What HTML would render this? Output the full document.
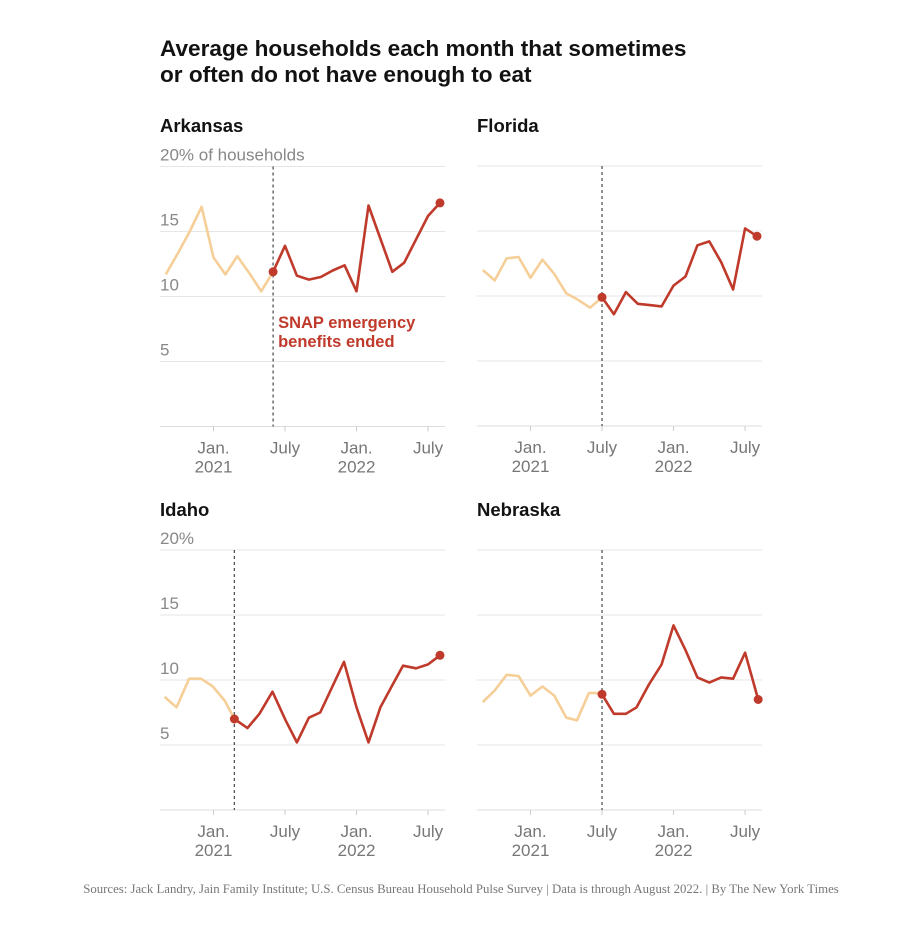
<!DOCTYPE html>
<html><head><meta charset="utf-8">
<style>
body{margin:0;background:#fff;width:898px;height:944px;overflow:hidden}
svg{display:block}
</style></head>
<body>
<svg id="chart" width="898" height="944">
<text x="160" y="56" font-family="Liberation Sans, sans-serif" font-weight="bold" font-size="22.6" fill="#121212">Average households each month that sometimes</text>
<text x="160" y="82" font-family="Liberation Sans, sans-serif" font-weight="bold" font-size="22.6" fill="#121212">or often do not have enough to eat</text>
<text x="461" y="893" text-anchor="middle" font-family="Liberation Serif, serif" font-size="12.8" fill="#777">Sources: Jack Landry, Jain Family Institute; U.S. Census Bureau Household Pulse Survey | Data is through August 2022. | By The New York Times</text>
</svg>
<script>
// month offsets relative to Jan 2021 (0 = Jan 2021)
const arLightMonths = [-4,-3,-2,-1,0,1,2,3,4,5];
const arLightValues = [11.7,13.3,15.0,16.9,13.0,11.7,13.1,11.8,10.4,11.9];
const arDarkMonths = [5,6,7,8,9,10,11,12,13,15,16,17,18,19];
const arDarkValues = [11.9,13.9,11.6,11.3,11.5,12.0,12.4,10.4,17.0,11.9,12.6,14.4,16.2,17.2];

const flLightMonths = [-4,-3,-2,-1,0,1,2,3,4,5,6];
const flLightValues = [12.0,11.2,12.9,13.0,11.4,12.8,11.7,10.2,9.7,9.1,9.9];
const flDarkMonths = [6,7,8,9,10,11,12,13,14,15,16,17,18,19];
const flDarkValues = [9.9,8.6,10.3,9.4,9.3,9.2,10.8,11.5,13.9,14.2,12.6,10.5,15.2,14.6];

const idLightMonths = [-4.1,-3.1,-2.05,-1.05,-0.05,0.95,1.75];
const idLightValues = [8.7,7.9,10.1,10.1,9.5,8.4,7.0];
const idDarkMonths = [1.75,2.85,3.85,4.95,6.05,7,8,8.95,10.95,12,13,14,15,15.9,17,18,19];
const idDarkValues = [7.0,6.3,7.4,9.1,6.9,5.2,7.1,7.5,11.4,7.9,5.2,7.9,9.6,11.1,10.9,11.2,11.9];

const neLightMonths = [-4,-3,-2,-1,0,1,2,3,3.9,4.9,5.5,6];
const neLightValues = [8.3,9.2,10.4,10.3,8.8,9.5,8.8,7.1,6.9,9.0,9.0,8.9];
const neDarkMonths = [6,7,8,8.9,9.9,11,12,13,14,15,16,17,18,19.1];
const neDarkValues = [8.9,7.4,7.4,7.9,9.6,11.2,14.2,12.3,10.2,9.8,10.2,10.1,12.1,8.5];

const yTicks = [0,5,10,15,20];
const xTickMonths = [0,6,12,18];
const xTickTop = ["Jan.","July","Jan.","July"];
const xTickBottom = ["2021","","2022",""];

const NS='http://www.w3.org/2000/svg';
const svg=document.getElementById('chart');
const LIGHT='#f6cf98', DARK='#c03a2b';

function mk(tag,attrs,parent){const e=document.createElementNS(NS,tag);for(const k in attrs)e.setAttribute(k,attrs[k]);(parent||svg).appendChild(e);return e;}

function panel(cfg){
  const g=mk('g',{});
  
  
  const x0=cfg.x0, x1=x0+285, jan=x0+53.5, pxm=11.92;
  const yBase=cfg.yBase, pxu=13;
  const xs=m=>jan+m*pxm, ys=v=>yBase-v*pxu;
  const title=mk('text',{x:x0,y:cfg.titleY,'font-family':'Liberation Sans, sans-serif','font-weight':'bold','font-size':'18.5',fill:'#121212'},g);
  title.textContent=cfg.name;
  
  
  yTicks.forEach(t=>{
    const l=mk('line',{x1:x0,x2:x1,y1:ys(t),y2:ys(t),stroke:t===0?'#ddd':'#e6e6e6','stroke-width':1},g);
    
    
    if(cfg.showY && t>0){
      let label=String(t);
      if(t===20) label=cfg.topLabel;
      if(t===20 && !label) return;
      const tx=mk('text',{x:x0,y:ys(t)-6,'font-family':'Liberation Sans, sans-serif','font-size':'17',fill:'#888'},g);
      tx.textContent=label;
      
      
    }
  });
  xTickMonths.forEach((m,i)=>{
    const tk=mk('line',{x1:xs(m),x2:xs(m),y1:yBase,y2:yBase+5,stroke:'#ccc'},g);
    
    
    const a=mk('text',{x:xs(m),y:yBase+27,'text-anchor':'middle','font-family':'Liberation Sans, sans-serif','font-size':'17',fill:'#777'},g);
    a.textContent=xTickTop[i];
    
    
    if(xTickBottom[i]){
      const b=mk('text',{x:xs(m),y:yBase+46,'text-anchor':'middle','font-family':'Liberation Sans, sans-serif','font-size':'17',fill:'#777'},g);
      b.textContent=xTickBottom[i];
      
      
    }
  });
  const vx=xs(cfg.darkM[0]);
  const dl=mk('line',{x1:vx,x2:vx,y1:ys(20),y2:yBase,stroke:'#555','stroke-width':1.3,'stroke-dasharray':'3,3'},g);
  
  
  const pts=(M,V)=>M.map((m,i)=>xs(m).toFixed(1)+','+ys(V[i]).toFixed(1)).join(' ');
  const lp=mk('polyline',{points:pts(cfg.lightM,cfg.lightV),fill:'none',stroke:LIGHT,'stroke-width':2.6,'stroke-linejoin':'round'},g);
  
  
  const dp=mk('polyline',{points:pts(cfg.darkM,cfg.darkV),fill:'none',stroke:DARK,'stroke-width':2.6,'stroke-linejoin':'round'},g);
  
  
  [[cfg.darkM[0],cfg.darkV[0]],[cfg.darkM[cfg.darkM.length-1],cfg.darkV[cfg.darkV.length-1]]].forEach(p=>{
    const c=mk('circle',{cx:xs(p[0]),cy:ys(p[1]),r:4.5,fill:DARK},g);
    
    
  });
  if(cfg.annot){
    ['SNAP emergency','benefits ended'].forEach((s,i)=>{
      const t=mk('text',{x:vx+5,y:328+i*19,'font-family':'Liberation Sans, sans-serif','font-weight':'bold','font-size':'16.5',fill:DARK},g);
      t.textContent=s;
      
      
    });
  }
}
panel({key:'arkansas',name:'Arkansas',x0:160,yBase:426.5,titleY:132,showY:true,topLabel:'20% of households',lightM:arLightMonths,lightV:arLightValues,darkM:arDarkMonths,darkV:arDarkValues,annot:true});
panel({key:'florida',name:'Florida',x0:477,yBase:426,titleY:132,showY:false,lightM:flLightMonths,lightV:flLightValues,darkM:flDarkMonths,darkV:flDarkValues});
panel({key:'idaho',name:'Idaho',x0:160,yBase:810,titleY:516,showY:true,topLabel:'20%',lightM:idLightMonths,lightV:idLightValues,darkM:idDarkMonths,darkV:idDarkValues});
panel({key:'nebraska',name:'Nebraska',x0:477,yBase:810,titleY:516,showY:false,lightM:neLightMonths,lightV:neLightValues,darkM:neDarkMonths,darkV:neDarkValues});
</script>
</body></html>
